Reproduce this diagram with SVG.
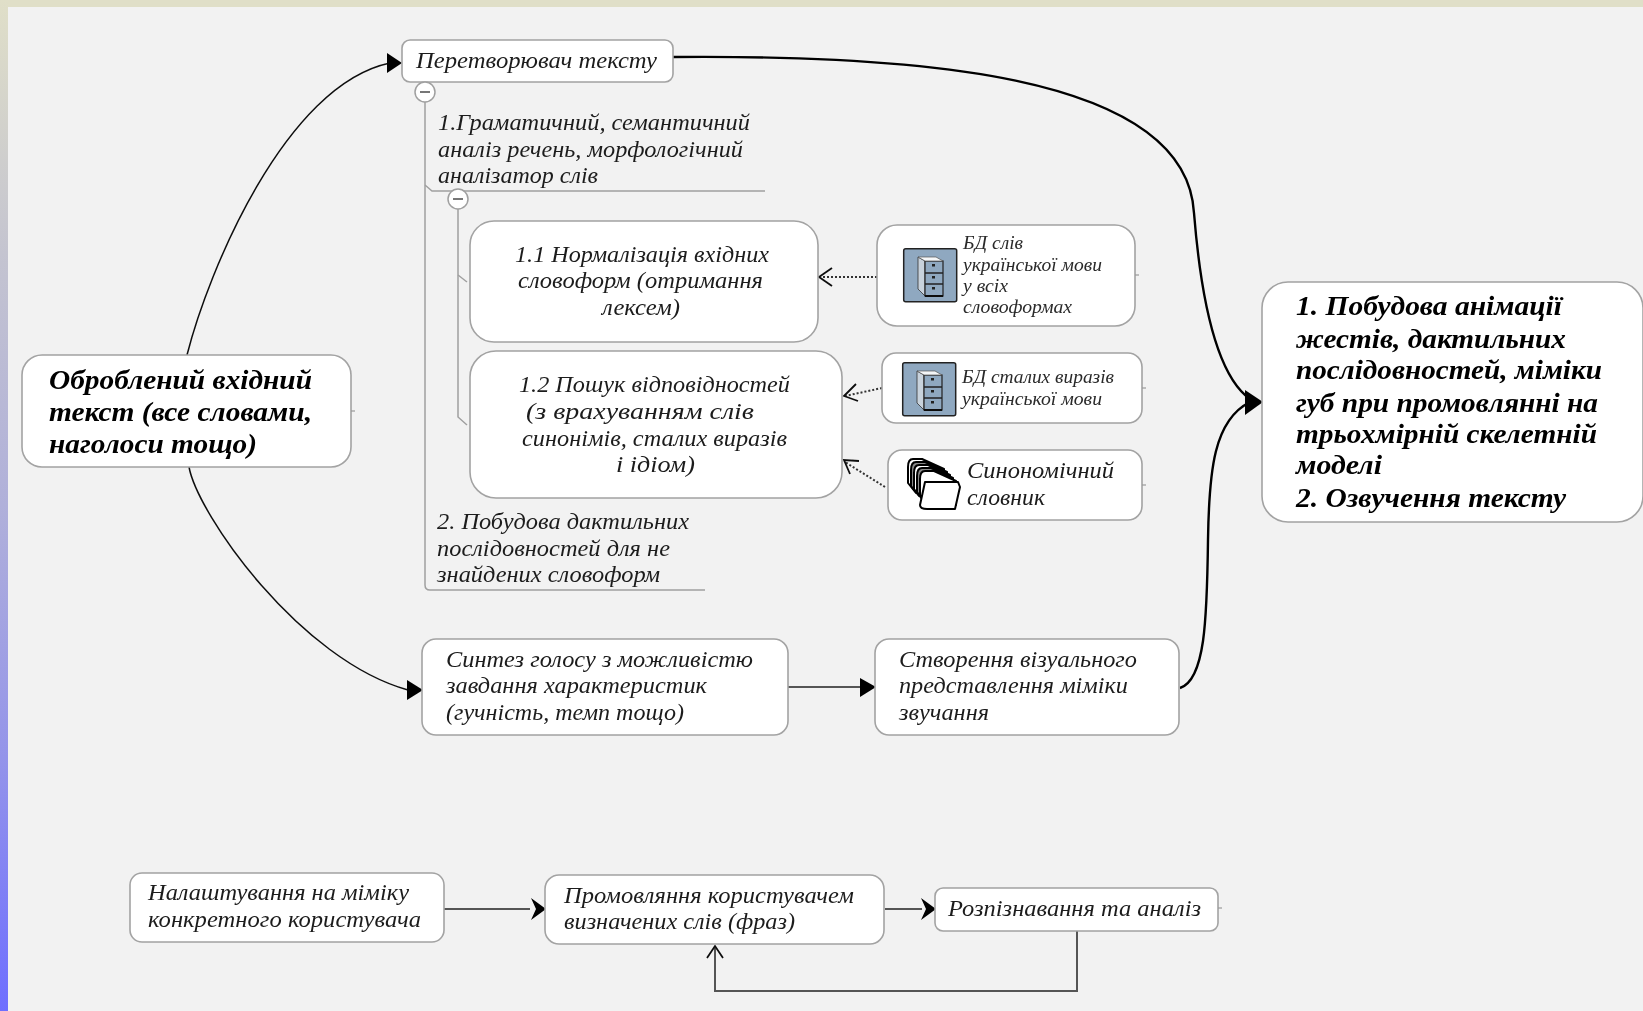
<svg xmlns="http://www.w3.org/2000/svg" xmlns:xlink="http://www.w3.org/1999/xlink" width="1643" height="1011" viewBox="0 0 1643 1011">
<style>
text{font-family:"Liberation Serif","Times New Roman",serif;font-style:italic;fill:#1c1c1c;font-size:22.5px}
.big{font-size:28px;font-weight:bold;fill:#000}
.sm{font-size:18.5px;fill:#2a2a2a}
.box{fill:#fff;stroke:#a3a3a3;stroke-width:1.6}
.tree{fill:none;stroke:#a0a0a0;stroke-width:1.5}
.c{fill:none;stroke:#111;stroke-width:1.5}
.c2{fill:none;stroke:#000;stroke-width:2.4}
.s{fill:none;stroke:#555;stroke-width:2}
.d{fill:none;stroke:#333;stroke-width:2;stroke-dasharray:2 2}
.o{fill:none;stroke:#111;stroke-width:1.8}
.h{fill:#000}
.tick{stroke:#999;stroke-width:1.2}
.pm{fill:#fff;stroke:#a0a0a0;stroke-width:1.5}
.pl{stroke:#777;stroke-width:2}
.fb{stroke:#000;stroke-width:2;stroke-linejoin:round}
</style>
<defs>
<linearGradient id="side" x1="0" y1="0" x2="0" y2="1">
<stop offset="0" stop-color="#e0dfc8"/><stop offset="0.25" stop-color="#c4c4d0"/><stop offset="0.5" stop-color="#b0b0da"/><stop offset="0.75" stop-color="#9494ea"/><stop offset="1" stop-color="#6e6eff"/>
</linearGradient>
<filter id="soft" x="0" y="0" width="1643" height="1011" filterUnits="userSpaceOnUse"><feGaussianBlur stdDeviation="0.5"/></filter>
<g id="cabinet">
<rect x="0.7" y="0.7" width="53" height="53" rx="2" fill="#8fa8c0" stroke="#222" stroke-width="1.5"/>
<path d="M15 9l7 4v35l-7-7z" fill="#c8d2dc" stroke="#333" stroke-width="0.8"/>
<rect x="22" y="13" width="18" height="35" fill="#8fa8c0" stroke="#222" stroke-width="1.2"/>
<path d="M15 9h18l7 4h-18z" fill="#f4f6f8" stroke="#555" stroke-width="0.7"/>
<path d="M22 25h18M22 36h18" stroke="#222" stroke-width="1.4"/>
<path d="M22 48h18" stroke="#111" stroke-width="2"/>
<rect x="29" y="16" width="3" height="2.5" fill="#222"/><rect x="29" y="28" width="3" height="2.5" fill="#222"/><rect x="29" y="39" width="3" height="2.5" fill="#222"/>
</g>
<path id="fold" d="M0 8Q0 0 5 0H14L36 10V34H8L0 24Z"/>
</defs>
<rect width="1643" height="1011" fill="#e0dfc8"/>
<rect width="8" height="1011" fill="url(#side)"/>
<rect x="8" y="7" width="1635" height="1004" fill="#f2f2f2"/>
<g filter="url(#soft)">
<g id="connectors">
<path class="c" d="M187 355C208 272 285 85 390 63"/>
<path class="h" d="M402 63L387 53V73z"/>
<path class="c" d="M189 467C198 515 300 660 408 690"/>
<path class="h" d="M423 690L407 680V700z"/>
<path class="c2" d="M673 57C900 55 1186 70 1194 213C1201 300 1216 375 1250 399"/>
<path class="c2" d="M1180 688C1205 680 1207 620 1208 540C1209 470 1214 420 1250 402"/>
<path class="h" d="M1263 402L1245 390V415z"/>
<path class="s" d="M788 687H862"/>
<path class="h" d="M876 687L860 678V697z"/>
<path class="s" d="M444 909H530"/>
<path class="h" d="M546 909L531 898L536 909L531 920z"/>
<path class="s" d="M885 909H922"/>
<path class="h" d="M936 909L921 898L926 909L921 920z"/>
<path class="s" d="M1077 931V991H715V946"/>
<path class="o" d="M707 958L715 946L723 958"/>
<path class="d" d="M877 277H820"/>
<path class="o" d="M832 268L819 277L832 286"/>
<path class="d" d="M882 388L845 396"/>
<path class="o" d="M856 384L844 396L858 401"/>
<path class="d" d="M885 487L845 462"/>
<path class="o" d="M859 461L844 460L850 474"/>
<path class="tree" d="M425 102V585Q425 590 430 590H705"/>
<path class="tree" d="M425 185L432 191H765"/>
<path class="tree" d="M458 209V417L467 425"/>
<path class="tree" d="M458 275L467 282"/>
</g>

<g id="n-source"><rect class="box" x="22" y="355" width="329" height="112" rx="20"/><path class="tick" d="M351 411h4"/>
<text class="big" x="49" y="389" textLength="263" lengthAdjust="spacingAndGlyphs">Оброблений вхідний</text>
<text class="big" x="49" y="421" textLength="263" lengthAdjust="spacingAndGlyphs">текст (все словами,</text>
<text class="big" x="49" y="453" textLength="208" lengthAdjust="spacingAndGlyphs">наголоси тощо)</text></g>

<g id="n-converter"><rect class="box" x="402" y="40" width="271" height="42" rx="8"/>
<text x="416" y="68" textLength="241" lengthAdjust="spacingAndGlyphs">Перетворювач тексту</text></g>

<g id="n-minus1"><circle class="pm" cx="425" cy="92" r="10"/><path class="pl" d="M420 92h10"/></g>
<g id="n-grammar">
<text x="438" y="130" textLength="312" lengthAdjust="spacingAndGlyphs">1.Граматичний, семантичний</text>
<text x="438" y="157" textLength="305" lengthAdjust="spacingAndGlyphs">аналіз речень, морфологічний</text>
<text x="438" y="183" textLength="160" lengthAdjust="spacingAndGlyphs">аналізатор слів</text></g>
<g id="n-minus2"><circle class="pm" cx="458" cy="199" r="10"/><path class="pl" d="M453 199h10"/></g>

<g id="n-normal"><rect class="box" x="470" y="221" width="348" height="121" rx="24"/>
<text x="515" y="262" textLength="254" lengthAdjust="spacingAndGlyphs">1.1 Нормалізація вхідних</text>
<text x="518" y="288" textLength="245" lengthAdjust="spacingAndGlyphs">словоформ (отримання</text>
<text x="602" y="315" textLength="78" lengthAdjust="spacingAndGlyphs">лексем)</text></g>

<g id="n-search"><rect class="box" x="470" y="351" width="372" height="147" rx="26"/>
<text x="519" y="392" textLength="271" lengthAdjust="spacingAndGlyphs">1.2 Пошук відповідностей</text>
<text x="526" y="419" textLength="228" lengthAdjust="spacingAndGlyphs">(з врахуванням слів</text>
<text x="522" y="446" textLength="265" lengthAdjust="spacingAndGlyphs">синонімів, сталих виразів</text>
<text x="616" y="472" textLength="79" lengthAdjust="spacingAndGlyphs">і ідіом)</text></g>

<g id="n-db1"><rect class="box" x="877" y="225" width="258" height="101" rx="20"/><path class="tick" d="M1135 275h4"/>
<use xlink:href="#cabinet" href="#cabinet" x="903" y="248"/>
<text class="sm" x="963" y="249" textLength="60" lengthAdjust="spacingAndGlyphs">БД слів</text>
<text class="sm" x="963" y="271" textLength="139" lengthAdjust="spacingAndGlyphs">української мови</text>
<text class="sm" x="963" y="292" textLength="45" lengthAdjust="spacingAndGlyphs">у всіх</text>
<text class="sm" x="963" y="313" textLength="109" lengthAdjust="spacingAndGlyphs">словоформах</text></g>

<g id="n-db2"><rect class="box" x="882" y="353" width="260" height="70" rx="14"/><path class="tick" d="M1142 388h4"/>
<use xlink:href="#cabinet" href="#cabinet" x="902" y="362"/>
<text class="sm" x="962" y="383" textLength="152" lengthAdjust="spacingAndGlyphs">БД сталих виразів</text>
<text class="sm" x="962" y="405" textLength="140" lengthAdjust="spacingAndGlyphs">української мови</text></g>

<g id="n-syn"><rect class="box" x="888" y="450" width="254" height="70" rx="14"/><path class="tick" d="M1142 485h4"/>
<g class="fb">
<use xlink:href="#fold" href="#fold" x="908" y="459" fill="#fff"/>
<use xlink:href="#fold" href="#fold" x="911" y="462" fill="#888"/>
<use xlink:href="#fold" href="#fold" x="914" y="465" fill="#fff"/>
<use xlink:href="#fold" href="#fold" x="917" y="468" fill="#888"/>
<use xlink:href="#fold" href="#fold" x="920" y="471" fill="#fff"/>
<path d="M925 482H958L960 487L955 509H927Q920 509 920 505Z" fill="#fff"/>
</g>
<text x="967" y="478" textLength="147" lengthAdjust="spacingAndGlyphs">Синономічний</text>
<text x="967" y="505" textLength="78" lengthAdjust="spacingAndGlyphs">словник</text></g>

<g id="n-dactyl">
<text x="437" y="529" textLength="252" lengthAdjust="spacingAndGlyphs">2. Побудова дактильних</text>
<text x="437" y="556" textLength="233" lengthAdjust="spacingAndGlyphs">послідовностей для не</text>
<text x="437" y="582" textLength="223" lengthAdjust="spacingAndGlyphs">знайдених словоформ</text></g>

<g id="n-synth"><rect class="box" x="422" y="639" width="366" height="96" rx="14"/>
<text x="446" y="667" textLength="307" lengthAdjust="spacingAndGlyphs">Синтез голосу з можливістю</text>
<text x="446" y="693" textLength="261" lengthAdjust="spacingAndGlyphs">завдання характеристик</text>
<text x="446" y="720" textLength="238" lengthAdjust="spacingAndGlyphs">(гучність, темп тощо)</text></g>

<g id="n-visual"><rect class="box" x="875" y="639" width="304" height="96" rx="14"/>
<text x="899" y="667" textLength="238" lengthAdjust="spacingAndGlyphs">Створення візуального</text>
<text x="899" y="693" textLength="229" lengthAdjust="spacingAndGlyphs">представлення міміки</text>
<text x="899" y="720" textLength="90" lengthAdjust="spacingAndGlyphs">звучання</text></g>

<g id="n-result"><rect class="box" x="1262" y="282" width="381" height="240" rx="26"/>
<text class="big" x="1296" y="315" textLength="266" lengthAdjust="spacingAndGlyphs">1. Побудова анімації</text>
<text class="big" x="1296" y="348" textLength="270" lengthAdjust="spacingAndGlyphs">жестів, дактильних</text>
<text class="big" x="1296" y="379" textLength="306" lengthAdjust="spacingAndGlyphs">послідовностей, міміки</text>
<text class="big" x="1296" y="412" textLength="302" lengthAdjust="spacingAndGlyphs">губ при промовлянні на</text>
<text class="big" x="1296" y="443" textLength="301" lengthAdjust="spacingAndGlyphs">трьохмірній скелетній</text>
<text class="big" x="1296" y="474" textLength="86" lengthAdjust="spacingAndGlyphs">моделі</text>
<text class="big" x="1296" y="507" textLength="270" lengthAdjust="spacingAndGlyphs">2. Озвучення тексту</text></g>

<g id="n-tune"><rect class="box" x="130" y="873" width="314" height="69" rx="12"/>
<text x="148" y="900" textLength="261" lengthAdjust="spacingAndGlyphs">Налаштування на міміку</text>
<text x="148" y="927" textLength="273" lengthAdjust="spacingAndGlyphs">конкретного користувача</text></g>

<g id="n-speak"><rect class="box" x="545" y="875" width="339" height="69" rx="14"/>
<text x="564" y="903" textLength="290" lengthAdjust="spacingAndGlyphs">Промовляння користувачем</text>
<text x="564" y="929" textLength="231" lengthAdjust="spacingAndGlyphs">визначених слів (фраз)</text></g>

<g id="n-recog"><rect class="box" x="935" y="888" width="283" height="43" rx="8"/><path class="tick" d="M1218 908h4"/>
<text x="948" y="916" textLength="253" lengthAdjust="spacingAndGlyphs">Розпізнавання та аналіз</text></g>
</g>
</svg>
